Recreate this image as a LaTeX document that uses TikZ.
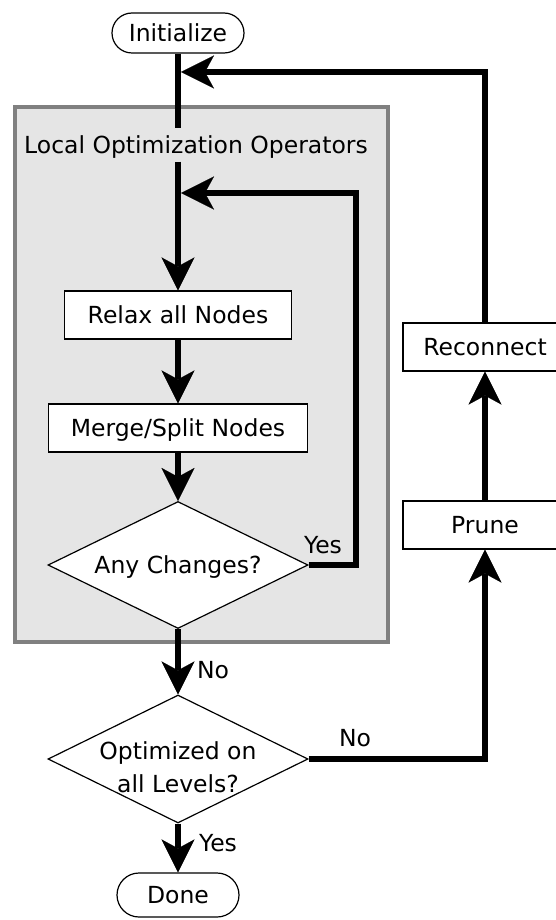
\documentclass[tikz,border=0pt]{standalone}
\usepackage{fontspec}
\setmainfont{DejaVu Sans}
\usetikzlibrary{arrows.meta,shapes.geometric}
\definecolor{panelfill}{HTML}{E5E5E5}
\definecolor{panelline}{HTML}{808080}
\begin{document}
\begin{tikzpicture}[x=1pt,y=-1pt,
  every node/.style={font=\fontsize{23.5}{33}\selectfont},
  flowbox/.style={draw=black,line width=1.2pt,fill=white,rectangle,
    minimum height=48pt,inner sep=0pt,text height=17pt,text depth=0pt},
  terminal/.style={flowbox,rounded corners=20pt},
  decision/.style={draw=black,line width=1.2pt,fill=white,diamond,
    shape aspect=2.05,inner sep=0pt,minimum width=260pt,minimum height=127pt,
    align=center},
  flow/.style={line width=6pt,
    -{Stealth[length=33pt,width=33pt,inset=9pt,line width=0.1pt]}},
  link/.style={line width=6pt},
  tag/.style={inner sep=0pt,text height=17pt,text depth=0pt}
]
% canvas
\useasboundingbox (0,0) rectangle (556,920);
\clip (0,0) rectangle (556,920);
\fill[white] (0,0) rectangle (556,920);

% panel of the local operators
\path[draw=panelline,fill=panelfill,line width=4.5pt] (15,107) rectangle (388,642);
\node[tag,minimum height=33pt] (title) at (196,145) {Local Optimization Operators};

% main column
\node[terminal,minimum width=132pt,minimum height=40pt] (init) at (178,33) {Initialize};
\node[flowbox,minimum width=227pt] (relax) at (178,315) {Relax all Nodes};
\node[flowbox,minimum width=259pt] (merge) at (178,428) {Merge/Split Nodes};
\node[decision,text height=17pt,text depth=0pt] (changes) at (178,565) {Any Changes?};
% two-line question: box spans both cap lines, negative ysep keeps the diamond small
\node[decision,minimum height=128pt,text height=66pt,text depth=0pt,inner ysep=-25pt]
  (optim) at (178,759) {Optimized on\\all Levels?};
\node[terminal,minimum width=122pt,minimum height=44pt,rounded corners=22pt] (done) at (178,895) {Done};

% side column
\node[flowbox,minimum width=164pt] (reconnect) at (485,347) {Reconnect};
\node[flowbox,minimum width=164pt] (prune) at (485,525) {Prune};

% junction points on the main line
\coordinate (j1) at (181,72);
\coordinate (j2) at (181,193);
\coordinate (yesturn) at (356,193);

% connectors
\draw[link] (init.south) -- (init.south |- title.north);
\draw[flow] (init.south |- title.south) -- (relax.north);
\draw[flow] (relax.south) -- (merge.north);
\draw[flow] (merge.south) -- (changes.north);
\draw[flow] (changes.south) -- (optim.north);
\draw[flow] (optim.south) -- (done.north);
\draw[flow] (changes.east) -| (yesturn) -- (j2);
\draw[flow] (optim.east) -| (prune.south);
\draw[flow] (prune.north) -- (reconnect.south);
\draw[flow] (reconnect.north) |- (j1);

% branch labels
\node[tag] (lyes1) at (323,545) {Yes};
\node[tag] (lno1) at (213,670) {No};
\node[tag] (lno2) at (355,738) {No};
\node[tag] (lyes2) at (218,843) {Yes};
\end{tikzpicture}
\end{document}
